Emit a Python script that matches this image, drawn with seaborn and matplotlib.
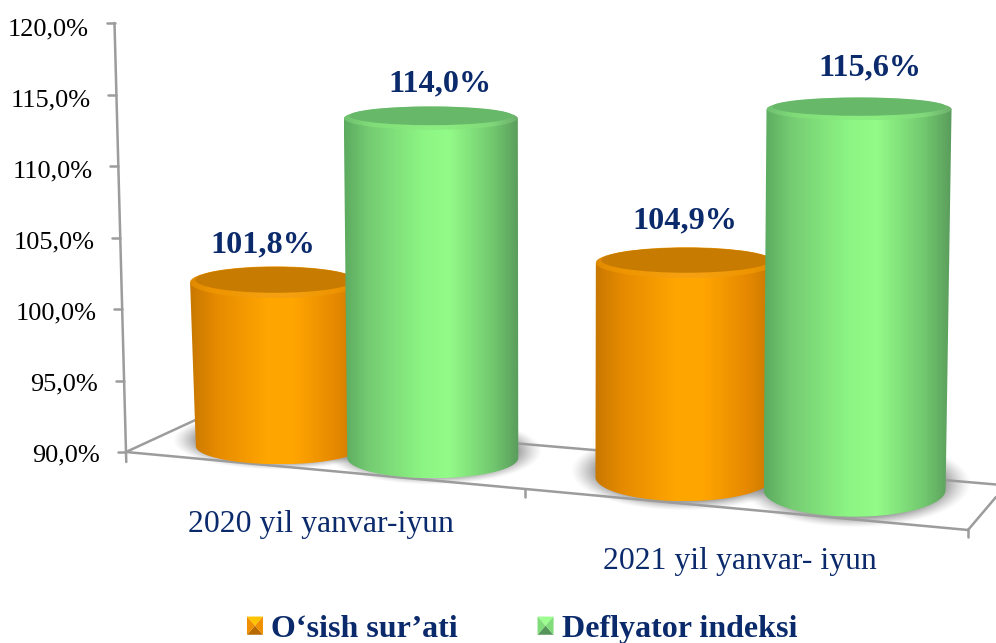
import numpy as np
import pandas as pd
import seaborn as sns
import matplotlib.pyplot as plt
from matplotlib.legend_handler import HandlerBase
from matplotlib.lines import Line2D
from matplotlib.patches import Ellipse, Patch, Polygon
from matplotlib.path import Path
from matplotlib.transforms import Affine2D, IdentityTransform

periods = ["2020 yil yanvar-iyun", "2021 yil yanvar- iyun"]
osish = [101.8, 104.9]
deflyator = [114.0, 115.6]
series_names = ["O‘sish sur’ati", "Deflyator indeksi"]
y_ticks = [90, 95, 100, 105, 110, 115, 120]
y_tick_labels = ["90,0%", "95,0%", "100,0%", "105,0%", "110,0%", "115,0%", "120,0%"]

W, H = 996, 643
NAVY = "#0b2a6b"
AXIS_GREY = "#9c9c9c"

# gradient stops across a cylinder, left to right
STOPS = [0, 0.15, 0.45, 0.6, 0.85, 1]
BODY = {
    series_names[0]: ["#c87800", "#e68a00", "#ffa600", "#ffa500", "#e58800", "#c47600"],
    series_names[1]: ["#5cab60", "#76cd73", "#8cf583", "#93fb88", "#72c96f", "#5a9c5c"],
}
RIM = {
    series_names[0]: ["#e08a00", "#ee9500", "#f5a010", "#f5a010", "#ee9500", "#dc8800"],
    series_names[1]: ["#70c070", "#80dc78", "#8aec80", "#8aec80", "#80d87a", "#6cae6c"],
}
LID = {series_names[0]: "#c77b00", series_names[1]: "#67b868"}
PALETTE = {name: BODY[name][2] for name in series_names}

sns.set_style("white")
plt.rcParams["font.family"] = ["Liberation Serif", "DejaVu Serif"]

df = pd.DataFrame({
    "period": periods * 2,
    "value": osish + deflyator,
    "series": [series_names[0]] * 2 + [series_names[1]] * 2,
})

fig = plt.figure(figsize=(W / 100, H / 100), dpi=100)
# pixel box of the plot: x from 126 to 970, y from 23 to 452 (from the top)
ax = fig.add_axes([126 / W, (H - 452) / H, (970 - 126) / W, (452 - 23) / H])
sns.barplot(data=df, x="period", y="value", hue="series", palette=PALETTE, width=0.8, gap=0,
            errorbar=None, legend=False, ax=ax)
ax.set_xlim(-225 / 419, 1 + 200 / 419)
ax.set_ylim(90, 120)
ax.set_yticks(y_ticks)
ax.set_yticklabels(y_tick_labels)
ax.set_xlabel("")
ax.set_ylabel("")
ax.patch.set_visible(False)
sns.despine(ax=ax, left=True, bottom=True)
ax.tick_params(axis="both", length=0, pad=0)
ax.tick_params(axis="y", labelsize=18.9, labelcolor="black")
ax.tick_params(axis="x", labelsize=22.9, labelcolor=NAVY)


def top_y(y):
    return H - y


def to_px(x, y):
    return ax.transData.transform((x, y))


def grey_line(xs, ys, z=1.0):
    ax.add_line(Line2D(xs, [top_y(v) for v in ys], color=AXIS_GREY, lw=1.8, zorder=z,
                       transform=IdentityTransform(), clip_on=False))


# slanted value axis and the floor
def axis_x(y):
    return 114.5 + (y - 23) * (126 - 114.5) / (452 - 23)


grey_line([axis_x(23), axis_x(462)], [23, 462])
for t in y_ticks:
    yp = H - to_px(0, t)[1]
    grey_line([axis_x(yp) - 8, axis_x(yp)], [yp, yp])
grey_line([126, 968], [452, 530])
grey_line([126, 203], [452, 416.5])
grey_line([203, 996], [416.5, 484.5])
grey_line([968, 996], [530, 497])
grey_line([525, 525], [489, 497])
grey_line([967.5, 967.5], [529, 537])


def draw_gradient(colors, x0, x1, y0, y1, clip, z):
    rgb = np.array([plt.matplotlib.colors.to_rgb(c) for c in colors])
    t = np.linspace(0, 1, 200)
    row = np.stack([np.interp(t, STOPS, rgb[:, i]) for i in range(3)], axis=1)[None, :, :]
    im = ax.imshow(row, extent=[x0, x1, y0, y1], aspect="auto", interpolation="bilinear",
                   transform=IdentityTransform(), zorder=z)
    im.set_clip_box(fig.bbox)
    im.set_clip_path(clip, IdentityTransform())


def draw_shadow(cx, cy, a, b, z):
    xs = np.linspace(-1, 1, 240)
    ys = np.linspace(-1, 1, 120)
    xx, yy = np.meshgrid(xs, ys)
    r = np.hypot(xx, yy)
    rgba = np.zeros((120, 240, 4))
    rgba[..., :3] = 0.35
    rgba[..., 3] = 0.8 * np.clip((1 - r) / 0.3, 0, 1) ** 1.3
    im = ax.imshow(rgba, extent=[cx - a, cx + a, cy - b, cy + b], aspect="auto",
                   transform=IdentityTransform(), zorder=z)
    im.set_clip_on(False)


# small per-bar corrections for the 3D look of the original
bar_nudge = [10, -3, -1, 3]
top_nudge = [0, 0, -3, 0]
label_nudge = [(-14, 37), (8, 34.5), (0, 42), (13, 41)]

bars = []
for name, cont in zip(series_names, ax.containers):
    for patch in cont.patches:
        bars.append((patch.get_x() + patch.get_width() / 2, patch.get_height(), name, patch))
bars.sort(key=lambda b: b[0])

for i, (xc, value, name, patch) in enumerate(bars):
    patch.set_visible(False)
    z = 3 + i
    cx = to_px(xc, 90)[0] + bar_nudge[i]
    width = 174 + 0.026 * (cx - 432)
    unit_scale = 1 + (cx - 520) * 0.00012
    height = (to_px(0, value)[1] - to_px(0, 90)[1]) * unit_scale
    base = top_y(446 + 0.0756 * (cx - 275))
    top = base + height + top_nudge[i]
    half_bot = 18 + (cx - 275) * 0.015
    half_top = 11.5 + 0.0268 * (H - top - 115)
    # the cylinders lean slightly towards the middle of the picture
    tilt = -(cx - 560) * 0.015
    cx_top, cx_bot = cx - tilt / 2, cx + tilt / 2
    width_bot = width - 3
    left, right = cx_top - width / 2, cx_top + width / 2

    draw_shadow(cx_bot, base + 6, width / 2 * 1.26, half_bot * 1.65, 0.5)

    ang = np.linspace(np.pi, 2 * np.pi, 80)
    body = np.column_stack([
        np.r_[left, cx_bot + width_bot / 2 * np.cos(ang), right, left],
        np.r_[top, base + half_bot * np.sin(ang), top, top],
    ])
    draw_gradient(BODY[name], min(left, cx_bot - width_bot / 2), max(right, cx_bot + width_bot / 2),
                  base - half_bot, top, Path(body), z)

    rim = Ellipse((cx_top, top), width, half_top * 2, transform=IdentityTransform())
    draw_gradient(RIM[name], left, right, top - half_top, top + half_top,
                  rim.get_transform().transform_path(rim.get_path()), z + 0.1)
    ax.add_patch(Ellipse((cx_top, top + 2.5), width * 0.94, half_top * 1.62, fc=LID[name], ec="none",
                         transform=IdentityTransform(), zorder=z + 0.2, clip_on=False))

    dx, dy = label_nudge[i]
    ax.text(cx + dx, top + dy, f"{value:.1f}%".replace(".", ","), ha="center", va="center",
            fontsize=23.2, fontweight="bold", color=NAVY, transform=IdentityTransform(),
            zorder=20)

ax.set_xlim(-225 / 419, 1 + 200 / 419)
ax.set_ylim(90, 120)


def shift(label, dx, dy):
    label.set_transform(label.get_transform() + Affine2D().translate(dx, dy))


# tick labels follow the slanted axis
for k, label in enumerate(ax.get_yticklabels()):
    shift(label, -26 - 11 * k / 6, -1 - 3 * k / 6)
xlabels = ax.get_xticklabels()
shift(xlabels[0], -30, -58)
shift(xlabels[1], -30, -95)


class BevelHandler(HandlerBase):
    def create_artists(self, legend, orig, xd, yd, w, h, fontsize, trans):
        light, mid, dark = orig.shades
        x0, y0, x1, y1 = -xd, -yd, w - xd, h - yd
        xm, ym = (x0 + x1) / 2, (y0 + y1) / 2
        faces = [
            ([(x0, y1), (x1, y1), (xm, ym)], light),
            ([(x0, y0), (x1, y0), (xm, ym)], dark),
            ([(x0, y0), (x0, y1), (xm, ym)], mid),
            ([(x1, y0), (x1, y1), (xm, ym)], mid),
        ]
        return [Polygon(p, closed=True, fc=c, ec="none", transform=trans) for p, c in faces]


handles = []
for name, shades in zip(series_names, [("#ffc400", "#f09000", "#b86a00"), ("#9cff90", "#7fdc78", "#55945a")]):
    h = Patch(label=name)
    h.shades = shades
    handles.append(h)

fig.legend(handles=handles, labels=series_names, loc="center", bbox_to_anchor=(522 / W, (H - 629.5) / H),
           ncol=2, frameon=False, handler_map={Patch: BevelHandler()},
           prop={"size": 23, "weight": "bold"}, labelcolor=NAVY, handlelength=0.5, handleheight=0.5,
           handletextpad=0.25, columnspacing=2.5, borderpad=0)

fig.savefig("out.png", dpi=100)
